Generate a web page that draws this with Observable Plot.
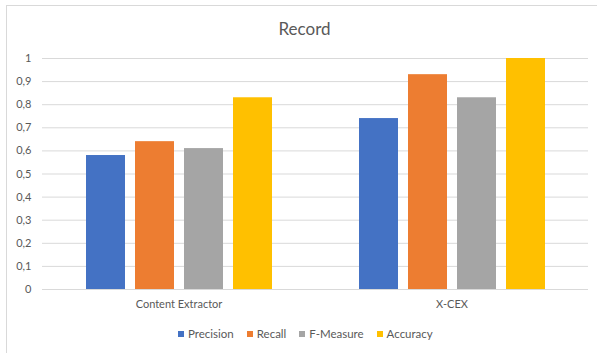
<!DOCTYPE html>
<html>
<head>
<meta charset="utf-8">
<script src="https://cdn.jsdelivr.net/npm/d3@7"></script>
<script src="https://cdn.jsdelivr.net/npm/@observablehq/plot@0.6"></script>
<style>
  html, body { margin: 0; padding: 0; background: #fff; }
  body { width: 597px; height: 353px; position: relative; overflow: hidden; font-family: Lato, "Open Sans", sans-serif; }
  #frame { position: absolute; left: 6px; top: 5px; width: 620px; height: 380px; border: 1px solid #d9d9d9; box-sizing: border-box; }
  #title { position: absolute; left: 0; top: 18px; width: 609px; text-align: center; font-size: 17px; color: #595959; line-height: 22px; }
  #chart { position: absolute; left: 0; top: 40px; }
  #legend { position: absolute; left: 178px; top: 327px; display: flex; align-items: center; font-size: 11.5px; color: #595959; line-height: 14px; }
  .item { display: flex; align-items: center; margin-right: 13px; }
  .sw { width: 6px; height: 6px; margin-right: 4px; }
</style>
</head>
<body>
<div id="frame"></div>
<div id="title">Record</div>
<div id="chart"></div>
<div id="legend"></div>
<script>
const groups = ["Content Extractor", "X-CEX"];
const series = ["Precision", "Recall", "F-Measure", "Accuracy"];
const precision = [0.58, 0.74];
const recall = [0.64, 0.93];
const fMeasure = [0.61, 0.83];
const accuracy = [0.83, 1.0];
const yTicks = [0, 0.1, 0.2, 0.3, 0.4, 0.5, 0.6, 0.7, 0.8, 0.9, 1];
const colors = ["#4472C4", "#ED7D31", "#A5A5A5", "#FFC000"];

const seriesValues = [precision, recall, fMeasure, accuracy];
const rows = [];
groups.forEach((g, gi) => {
  series.forEach((s, si) => rows.push({group: g, series: s, value: seriesValues[si][gi]}));
});

const chart = Plot.plot({
  width: 597,
  height: 290,
  marginLeft: 42,
  marginRight: 9,
  marginTop: 18,
  marginBottom: 41,
  style: {fontFamily: "Lato, 'Open Sans', sans-serif", fontSize: "11px", color: "#595959", background: "transparent"},
  facet: {data: rows, x: "group"},
  fx: {domain: groups, padding: 0, axis: "bottom", label: null, tickSize: 0, tickPadding: 11},
  x: {domain: series, axis: null, paddingInner: 0.21, paddingOuter: 0.86},
  y: {domain: [0, 1], ticks: yTicks, tickSize: 0, tickPadding: 11, label: null,
      tickFormat: d => String(d).replace(".", ",")},
  color: {domain: series, range: colors},
  marks: [
    Plot.ruleY(yTicks, {stroke: "#d9d9d9", strokeWidth: 1}),
    Plot.barY(rows, {x: "series", y: "value", fill: "series"})
  ]
});
document.getElementById("chart").appendChild(chart);

const legend = document.getElementById("legend");
series.forEach((s, i) => {
  const item = document.createElement("div");
  item.className = "item";
  const sw = document.createElement("div");
  sw.className = "sw";
  sw.style.background = colors[i];
  const t = document.createElement("span");
  t.textContent = s;
  item.appendChild(sw);
  item.appendChild(t);
  legend.appendChild(item);
});
</script>
</body>
</html>
